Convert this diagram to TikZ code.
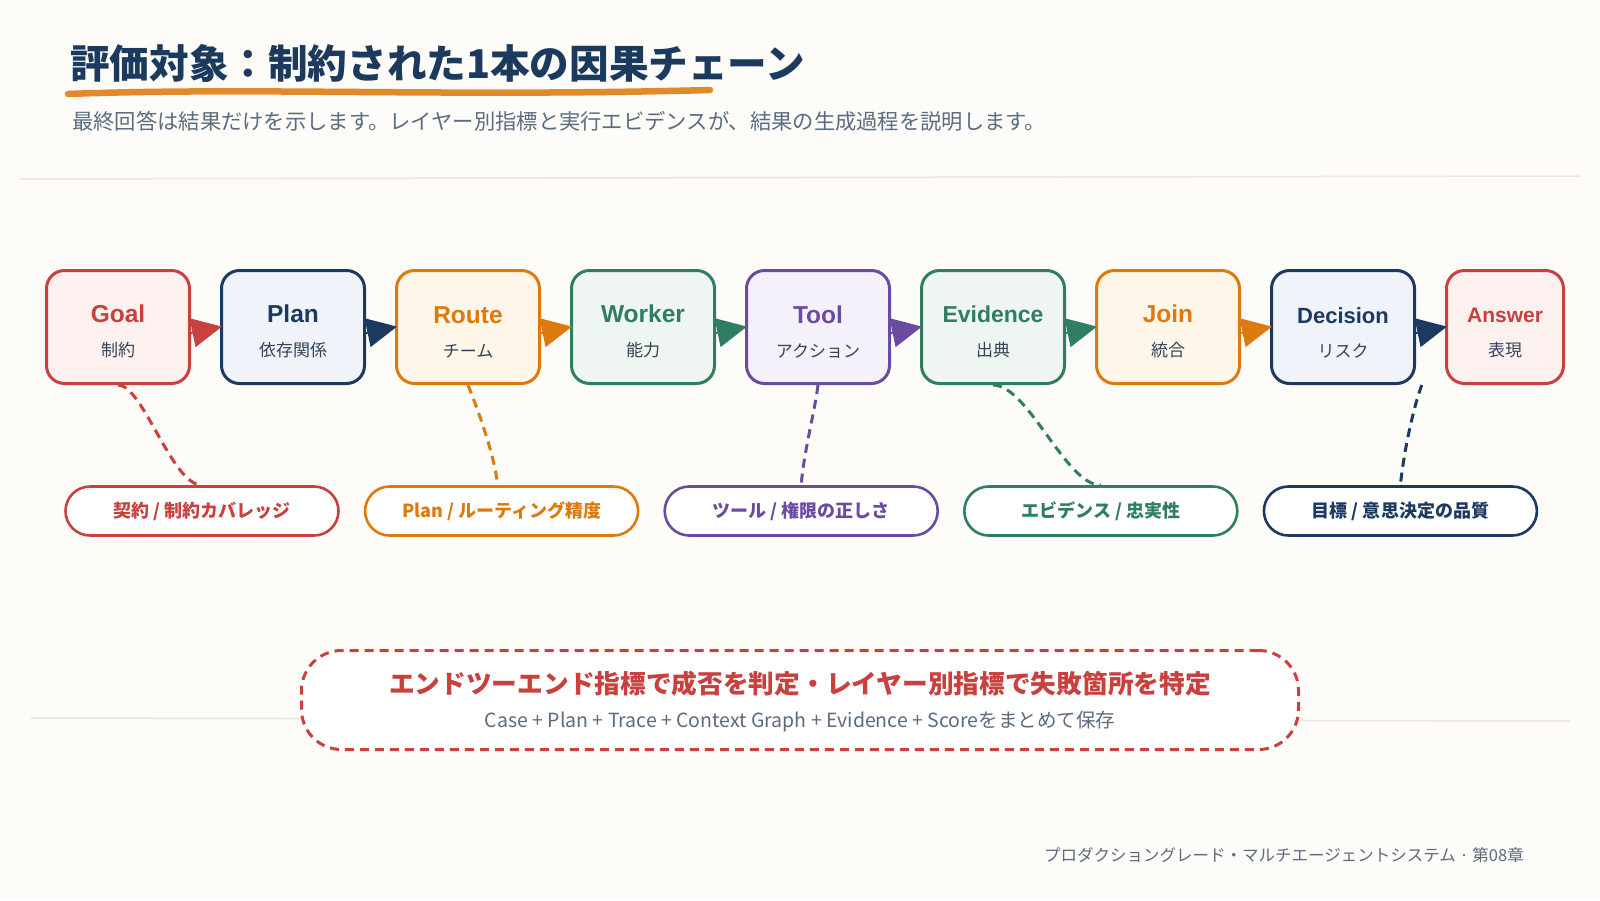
\documentclass[tikz,border=0pt]{standalone}
\usepackage{fontspec}
\setmainfont{Liberation Sans}
\newfontfamily\jp{Noto Sans CJK JP}
\usepackage{tikz}
\usetikzlibrary{arrows.meta, positioning, calc, shapes.misc}

\definecolor{paper}{HTML}{FDFCF8}
\definecolor{rulegray}{HTML}{ECE8DF}
\definecolor{slate}{HTML}{34435A}
\definecolor{mutedgray}{HTML}{5B6B80}
\definecolor{titlenavy}{HTML}{1B3A5E}
\definecolor{brush}{HTML}{E08A2B}
\definecolor{redline}{HTML}{C8413F}
\definecolor{redfill}{HTML}{FDF1F0}
\definecolor{navyline}{HTML}{1C3A5F}
\definecolor{navyfill}{HTML}{F0F4FA}
\definecolor{orangeline}{HTML}{DC7A0E}
\definecolor{orangefill}{HTML}{FEF6E8}
\definecolor{greenline}{HTML}{2F7D63}
\definecolor{greenfill}{HTML}{EFF6F2}
\definecolor{purpleline}{HTML}{6A4BA0}
\definecolor{purplefill}{HTML}{F4F1FA}

\newcommand{\stagetext}[2]{\rule{0pt}{27pt}{\bfseries #1}\\{\jp\fontsize{17}{17}\selectfont\color{slate}#2}}

\begin{document}
\begin{tikzpicture}[x=1pt, y=-1pt,
	stage/.style={draw=#1line, fill=#1fill, text=#1line, line width=3pt, rounded corners=18pt,
		minimum width=143pt, minimum height=113pt, inner sep=0pt, align=center,
		font=\fontsize{24.5}{34}\selectfont},
	flow/.style={#1line, line width=2pt, shorten >=-2pt, -{Triangle[length=30pt, width=29pt]}},
	trace/.style={#1line, line width=3pt, dash pattern=on 9pt off 6pt},
	metric/.style={rounded rectangle, draw=#1line, text=#1line, fill=white, line width=2.6pt,
		minimum width=273pt, minimum height=49pt, inner sep=0pt,
		font=\jp\bfseries\fontsize{18}{18}\selectfont},
	]

	\useasboundingbox (0,0) rectangle (1600,900);
	\fill[paper] (0,0) rectangle (1600,900);
	\draw[rulegray, line width=1.5pt] (20,179) -- (1580,176);
	\draw[rulegray, line width=1.5pt] (31,718) -- (1570,721);

	\node[anchor=west, inner sep=0pt, text=titlenavy, font=\jp\bfseries\fontsize{39.6}{40}\selectfont] (title) at (70,63) {評価対象：制約された1本の因果チェーン};
	\draw[brush, line width=6.5pt, line cap=round] (68,94) .. controls (250,87) and (450,97) .. (710,90);
	\node[anchor=west, inner sep=0pt, text=mutedgray, font=\jp\fontsize{21.3}{22}\selectfont] (lead) at (72,121) {最終回答は結果だけを示します。レイヤー別指標と実行エビデンスが、結果の生成過程を説明します。};

	\node[stage=red] (goal) at (118,327) {\stagetext{Goal}{制約}};
	\node[stage=navy, right=29pt of goal] (plan) {\stagetext{Plan}{依存関係}};
	\node[stage=orange, right=29pt of plan] (route) {\stagetext{Route}{チーム}};
	\node[stage=green, right=29pt of route] (worker) {\stagetext{Worker}{能力}};
	\node[stage=purple, right=29pt of worker] (tool) {\stagetext{Tool}{アクション}};
	\node[stage=green, right=29pt of tool, font=\fontsize{23}{34}\selectfont] (evidence) {\stagetext{Evidence}{出典}};
	\node[stage=orange, right=29pt of evidence] (join) {\stagetext{Join}{統合}};
	\node[stage=navy, right=29pt of join, font=\fontsize{22}{34}\selectfont] (decision) {\stagetext{Decision}{リスク}};
	\node[stage=red, right=29pt of decision, minimum width=117pt, font=\fontsize{21}{34}\selectfont] (answer) {\stagetext{Answer}{表現}};

	\draw[flow=red] ([yshift=-6pt]goal.east) -- (plan.west);
	\draw[flow=navy] ([yshift=-6pt]plan.east) -- (route.west);
	\draw[flow=orange] ([yshift=-6pt]route.east) -- (worker.west);
	\draw[flow=green] ([yshift=-6pt]worker.east) -- (tool.west);
	\draw[flow=purple] ([yshift=-6pt]tool.east) -- (evidence.west);
	\draw[flow=green] ([yshift=-6pt]evidence.east) -- (join.west);
	\draw[flow=orange] ([yshift=-6pt]join.east) -- (decision.west);
	\draw[flow=navy] ([yshift=-6pt]decision.east) -- (answer.west);

	\node[metric=red] (m1) at (202,511) {契約 / 制約カバレッジ};
	\node[metric=orange, right=24pt of m1] (m2) {Plan / ルーティング精度};
	\node[metric=purple, right=24pt of m2] (m3) {ツール / 権限の正しさ};
	\node[metric=green, right=24pt of m3] (m4) {エビデンス / 忠実性};
	\node[metric=navy, right=24pt of m4] (m5) {目標 / 意思決定の品質};

	\coordinate (riskfoot) at ($(decision.south east)!0.2!(answer.south west)$);
	\draw[trace=red] (goal.south) .. controls +(25,0) and +(-30,0) .. (m1.north);
	\draw[trace=orange] (route.south) .. controls +(10,25) and +(-3,-30) .. ([xshift=-4pt]m2.north);
	\draw[trace=purple] (tool.south) .. controls +(-3,25) and +(2,-30) .. (m3.north);
	\draw[trace=green] (evidence.south) .. controls +(35,0) and +(-35,0) .. (m4.north);
	\draw[trace=navy] (riskfoot) .. controls +(-6,15) and +(4,-40) .. (m5.north);

	\node[draw=redline, fill=white, line width=3pt, dash pattern=on 9pt off 6pt, rounded corners=40pt,
		minimum width=997pt, minimum height=99pt] (summary) at (800,700) {};
	\node[inner sep=0pt, text=redline, font=\jp\bfseries\fontsize{25.7}{26}\selectfont] (verdict) at (800,684) {エンドツーエンド指標で成否を判定・レイヤー別指標で失敗箇所を特定};
	\node[inner sep=0pt, text=mutedgray, font=\jp\fontsize{19.5}{20}\selectfont] (bundle) at (800,722) {Case + Plan + Trace + Context Graph + Evidence + Scoreをまとめて保存};

	\node[anchor=east, inner sep=0pt, text=mutedgray, font=\jp\fontsize{16.5}{17}\selectfont] (footer) at (1524,855) {プロダクショングレード・マルチエージェントシステム · 第08章};
\end{tikzpicture}
\end{document}
